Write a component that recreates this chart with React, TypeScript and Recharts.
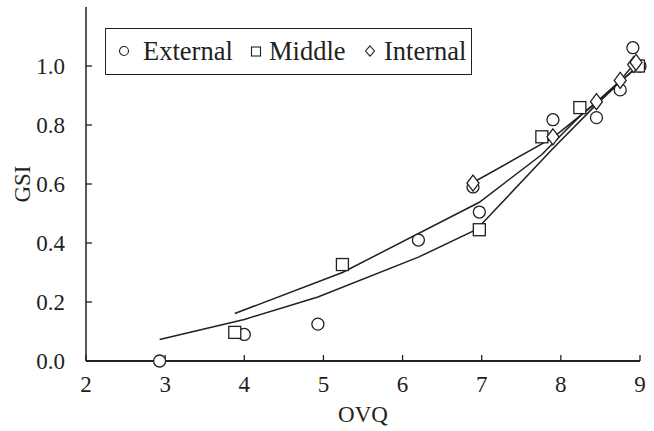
import React from 'react';
import { ComposedChart, Scatter, XAxis, YAxis } from 'recharts';

const xTicks = [2, 3, 4, 5, 6, 7, 8, 9];
const yTicks = [0, 0.2, 0.4, 0.6, 0.8, 1.0];

const external = [
  { x: 2.93, y: 0.0 }, { x: 4.0, y: 0.09 }, { x: 4.93, y: 0.125 }, { x: 6.2, y: 0.41 },
  { x: 6.89, y: 0.59 }, { x: 6.97, y: 0.505 }, { x: 7.9, y: 0.818 }, { x: 8.45, y: 0.825 },
  { x: 8.75, y: 0.919 }, { x: 8.91, y: 1.062 }, { x: 9.0, y: 1.0 },
];
const middle = [
  { x: 3.88, y: 0.097 }, { x: 5.24, y: 0.327 }, { x: 6.97, y: 0.445 },
  { x: 7.76, y: 0.76 }, { x: 8.24, y: 0.859 }, { x: 8.98, y: 1.0 },
];
const internal = [
  { x: 6.89, y: 0.603 }, { x: 7.9, y: 0.76 }, { x: 8.45, y: 0.879 },
  { x: 8.75, y: 0.951 }, { x: 8.92, y: 1.005 }, { x: 8.95, y: 1.012 },
];

const externalFit = [
  { x: 2.93, y: 0.073 }, { x: 4.0, y: 0.141 }, { x: 4.93, y: 0.217 }, { x: 6.2, y: 0.352 },
  { x: 6.89, y: 0.44 }, { x: 6.97, y: 0.456 }, { x: 7.9, y: 0.72 }, { x: 8.45, y: 0.87 },
  { x: 8.75, y: 0.945 }, { x: 8.91, y: 0.985 }, { x: 9.0, y: 1.0 },
];
const middleFit = [
  { x: 3.88, y: 0.161 }, { x: 5.24, y: 0.3 }, { x: 6.97, y: 0.538 },
  { x: 7.76, y: 0.7 }, { x: 8.24, y: 0.83 }, { x: 8.98, y: 1.0 },
];
const internalFit = [
  { x: 6.89, y: 0.605 }, { x: 7.9, y: 0.757 }, { x: 8.45, y: 0.876 },
  { x: 8.75, y: 0.951 }, { x: 8.92, y: 1.005 },
];

const INK = '#231f20';
const FONT = '"Liberation Serif", "Times New Roman", serif';

const CircleShape = (p: any) => (
  <circle cx={p.cx} cy={p.cy} r={6} fill="#fff" stroke={INK} strokeWidth={1.3} />
);
const SquareShape = (p: any) => (
  <rect x={p.cx - 6} y={p.cy - 6} width={12} height={12} fill="#fff" stroke={INK} strokeWidth={1.3} />
);
const DiamondShape = (p: any) => (
  <path
    d={`M${p.cx},${p.cy - 8} L${p.cx + 6},${p.cy} L${p.cx},${p.cy + 8} L${p.cx - 6},${p.cy} Z`}
    fill="#fff"
    stroke={INK}
    strokeWidth={1.3}
  />
);
const NoShape = () => null;

const legendItems = [
  { name: 'External', kind: 'circle', markerX: 18, textX: 37 },
  { name: 'Middle', kind: 'square', markerX: 150, textX: 163 },
  { name: 'Internal', kind: 'diamond', markerX: 264, textX: 278 },
];

const LegendBox = () => (
  <div
    style={{
      position: 'absolute',
      left: 105,
      top: 28,
      border: `1.3px solid ${INK}`,
      background: '#fff',
      width: 367,
      height: 47,
      boxSizing: 'border-box',
      fontFamily: FONT,
      fontSize: 26.5,
      color: INK,
      whiteSpace: 'nowrap',
    }}
  >
    {legendItems.map((it) => (
      <React.Fragment key={it.name}>
        <svg width={12} height={12} style={{ position: 'absolute', left: it.markerX - 6, top: 16 }}>
          {it.kind === 'circle' && <circle cx={6} cy={6} r={4.5} fill="none" stroke={INK} strokeWidth={1.1} />}
          {it.kind === 'square' && <rect x={1.5} y={2} width={9} height={9} fill="none" stroke={INK} strokeWidth={1.1} />}
          {it.kind === 'diamond' && <path d="M6,0.8 L10.5,6 L6,11.2 L1.5,6 Z" fill="none" stroke={INK} strokeWidth={1.1} />}
        </svg>
        <span style={{ position: 'absolute', left: it.textX, top: 4, lineHeight: '36px' }}>{it.name}</span>
      </React.Fragment>
    ))}
  </div>
);

const tickStyle = { fontFamily: FONT, fontSize: 23, fill: INK };

export default function App() {
  return (
    <div style={{ position: 'absolute', left: 0, top: 0, width: 654, height: 431, background: '#fff' }}>
      <ComposedChart
        width={654}
        height={431}
        margin={{ top: 7, right: 14, bottom: 0, left: 0 }}
        style={{ fontFamily: FONT }}
      >
        <XAxis
          xAxisId="b"
          type="number"
          dataKey="x"
          domain={[2, 9]}
          ticks={xTicks}
          tickSize={-6}
          tickMargin={21}
          height={70}
          axisLine={{ stroke: INK, strokeWidth: 2 }}
          tickLine={{ stroke: INK, strokeWidth: 1.3 }}
          tick={tickStyle}
          label={{ value: 'OVQ', position: 'insideBottom', offset: 9, style: { fontFamily: FONT, fontSize: 23, fill: INK } }}
        />
        <XAxis
          xAxisId="t"
          orientation="top"
          type="number"
          dataKey="x"
          domain={[2, 9]}
          ticks={xTicks}
          tickSize={-6}
          height={0}
          axisLine={{ stroke: INK, strokeWidth: 1.5 }}
          tickLine={{ stroke: INK, strokeWidth: 1.3 }}
          tickFormatter={() => ''}
        />
        <YAxis
          yAxisId="l"
          type="number"
          dataKey="y"
          domain={[0, 1.2]}
          ticks={yTicks}
          tickSize={-6}
          tickMargin={27}
          width={86}
          axisLine={{ stroke: INK, strokeWidth: 1.5 }}
          tickLine={{ stroke: INK, strokeWidth: 1.3 }}
          tick={tickStyle}
          tickFormatter={(v: number) => v.toFixed(1)}
          label={{ value: 'GSI', angle: -90, position: 'insideLeft', offset: 22, style: { fontFamily: FONT, fontSize: 23, fill: INK, textAnchor: 'middle' } }}
        />
        <YAxis
          yAxisId="r"
          orientation="right"
          type="number"
          dataKey="y"
          domain={[0, 1.2]}
          ticks={yTicks}
          tickSize={-6}
          width={0}
          axisLine={{ stroke: INK, strokeWidth: 1.5 }}
          tickLine={{ stroke: INK, strokeWidth: 1.3 }}
          tickFormatter={() => ''}
        />
        <Scatter xAxisId="b" yAxisId="l" name="externalFit" data={externalFit} shape={NoShape} line={{ stroke: INK, strokeWidth: 1.5 }} isAnimationActive={false} legendType="none" />
        <Scatter xAxisId="b" yAxisId="l" name="middleFit" data={middleFit} shape={NoShape} line={{ stroke: INK, strokeWidth: 1.5 }} isAnimationActive={false} legendType="none" />
        <Scatter xAxisId="b" yAxisId="l" name="internalFit" data={internalFit} shape={NoShape} line={{ stroke: INK, strokeWidth: 1.5 }} isAnimationActive={false} legendType="none" />
        <Scatter xAxisId="b" yAxisId="l" name="External" data={external} shape={CircleShape} isAnimationActive={false} />
        <Scatter xAxisId="b" yAxisId="l" name="Middle" data={middle} shape={SquareShape} isAnimationActive={false} />
        <Scatter xAxisId="b" yAxisId="l" name="Internal" data={internal} shape={DiamondShape} isAnimationActive={false} />
      </ComposedChart>
      <LegendBox />
    </div>
  );
}
